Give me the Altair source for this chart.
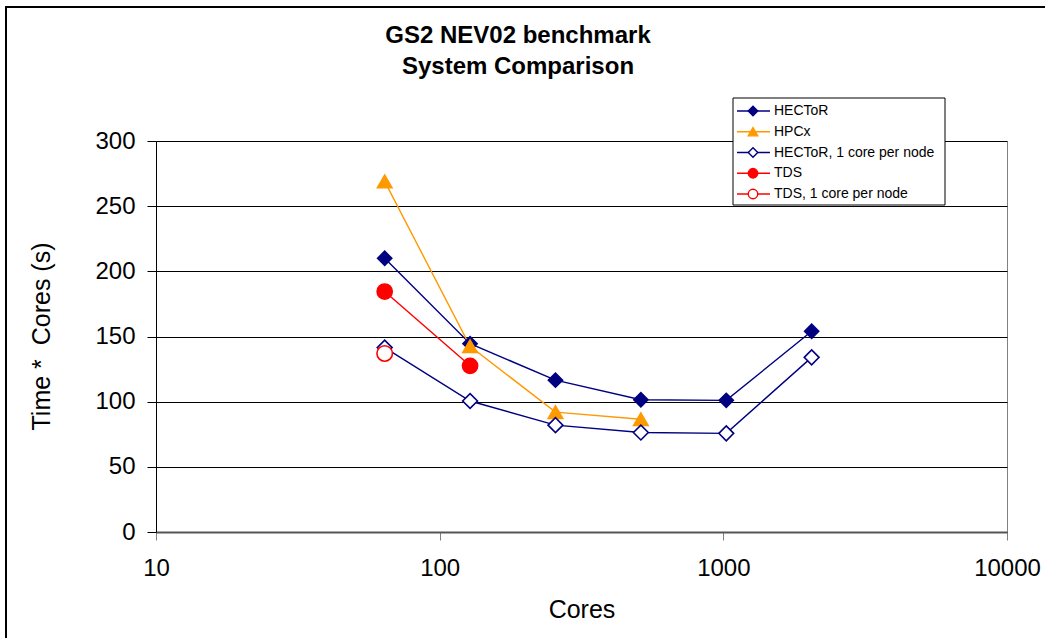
import altair as alt
import pandas as pd

# ---- data ----
series_names = ["HECToR", "HPCx", "HECToR, 1 core per node", "TDS", "TDS, 1 core per node"]

hector_cores = [64, 128, 256, 512, 1024, 2048]
hector_vals = [210, 144.5, 116.5, 101.5, 101, 154]

hpcx_cores = [64, 128, 256, 512]
hpcx_vals = [269, 142.5, 92, 86.5]

hector1_cores = [64, 128, 256, 512, 1024, 2048]
hector1_vals = [141.5, 100.5, 82, 76.3, 75.7, 134]

tds_cores = [64, 128]
tds_vals = [184.5, 127.5]

tds1_cores = [64]
tds1_vals = [137]

x_ticks = [10, 100, 1000, 10000]
y_ticks = [0, 50, 100, 150, 200, 250, 300]

title_lines = ["GS2 NEV02 benchmark", "System Comparison"]
x_title = "Cores"
y_title = "Time *\u00a0\u00a0Cores (s)"

# ---- styles ----
stroke_colors = ["#000080", "#FF9900", "#000080", "#FF0000", "#FF0000"]
fill_colors = ["#000080", "#FF9900", "#FFFFFF", "#FF0000", "#FFFFFF"]
shapes = ["diamond", "triangle-up", "diamond", "circle", "circle"]
sizes = [200, 240, 190, 180, 150]

rows = []
for name, xs, ys in [
    (series_names[0], hector_cores, hector_vals),
    (series_names[1], hpcx_cores, hpcx_vals),
    (series_names[2], hector1_cores, hector1_vals),
    (series_names[3], tds_cores, tds_vals),
    (series_names[4], tds1_cores, tds1_vals),
]:
    for xv, yv in zip(xs, ys):
        rows.append({"series": name, "cores": xv, "value": yv})
df = pd.DataFrame(rows)

FONT = "Liberation Sans"

stroke_scale = alt.Scale(domain=series_names, range=stroke_colors)
fill_scale = alt.Scale(domain=series_names, range=fill_colors)
shape_scale = alt.Scale(domain=series_names, range=shapes)
size_scale = alt.Scale(domain=series_names, range=sizes)

x_enc = alt.X(
    "cores:Q",
    scale=alt.Scale(type="log", domain=[10, 10000], nice=False),
    axis=alt.Axis(
        values=x_ticks,
        format="d",
        title=x_title,
        grid=False,
        domainColor="#555555",
        domainWidth=2,
        tickColor="#808080",
        tickSize=8,
        labelPadding=16,
        labelFontSize=24,
        labelFont=FONT,
        labelColor="#000000",
        titleFont=FONT,
        titleFontSize=25,
        titleFontWeight="normal",
        titleColor="#000000",
        titleY=77,
        titleBaseline="middle",
        labelFlush=False,
        labelOverlap=False,
    ),
)
y_enc = alt.Y(
    "value:Q",
    scale=alt.Scale(domain=[0, 300], nice=False, zero=True),
    axis=alt.Axis(
        values=y_ticks,
        title=y_title,
        grid=True,
        gridColor="#000000",
        gridWidth=1,
        domainColor="#000000",
        domainWidth=1,
        tickColor="#000000",
        tickSize=9,
        labelPadding=12,
        labelFontSize=24,
        labelFont=FONT,
        labelColor="#000000",
        titleFont=FONT,
        titleFontSize=25,
        titleFontWeight="normal",
        titleColor="#000000",
        titleX=-115,
        titleY=195,
        titleAngle=-90,
        titleAlign="center",
        titleBaseline="middle",
        labelFlush=False,
        labelOverlap=False,
    ),
)

lines = alt.Chart(df).mark_line(strokeWidth=1.4).encode(
    x=x_enc,
    y=y_enc,
    stroke=alt.Stroke("series:N", scale=stroke_scale, legend=None),
    order=alt.Order("cores:Q"),
)

points = alt.Chart(df).mark_point(opacity=1, strokeWidth=1.6).encode(
    x=x_enc,
    y=y_enc,
    stroke=alt.Stroke("series:N", scale=stroke_scale, legend=None),
    fill=alt.Fill("series:N", scale=fill_scale, legend=None),
    shape=alt.Shape("series:N", scale=shape_scale, legend=None),
    size=alt.Size("series:N", scale=size_scale, legend=None),
)

main = alt.layer(lines, points)

# ---- legend drawn by hand (Excel style: line through marker) ----
leg_df = pd.DataFrame({"series": series_names})
leg_y = alt.Y(
    "series:N",
    scale=alt.Scale(type="point", domain=series_names, range=[-30, 53], padding=0),
    axis=None,
)
box_df = pd.DataFrame({"k": [0]})
leg_box = alt.Chart(box_df).mark_rect(
    fill="#FFFFFF", stroke="#000000", strokeWidth=1
).encode(
    x=alt.value(577), x2=alt.value(789), y=alt.value(-43), y2=alt.value(64)
)
leg_rules = alt.Chart(leg_df).mark_rule(strokeWidth=1.4).encode(
    x=alt.value(581), x2=alt.value(614), y=leg_y,
    stroke=alt.Stroke("series:N", scale=stroke_scale, legend=None),
)
leg_pts = alt.Chart(leg_df).mark_point(opacity=1, strokeWidth=1.4).encode(
    x=alt.value(597), y=leg_y,
    stroke=alt.Stroke("series:N", scale=stroke_scale, legend=None),
    fill=alt.Fill("series:N", scale=fill_scale, legend=None),
    shape=alt.Shape("series:N", scale=shape_scale, legend=None),
    size=alt.value(90),
)
leg_txt = alt.Chart(leg_df).mark_text(
    align="left", baseline="middle", fontSize=14, font=FONT, color="#000000"
).encode(x=alt.value(618), y=leg_y, text="series:N")
legend = alt.layer(leg_box, leg_rules, leg_pts, leg_txt)

# ---- title and outer frame ----
title = alt.Chart(pd.DataFrame({"k": [0]})).mark_text(
    text=title_lines,
    fontSize=24,
    fontWeight="bold",
    font=FONT,
    align="center",
    baseline="alphabetic",
    lineHeight=31,
    color="#000000",
).encode(x=alt.value(362), y=alt.value(-98))

frame = alt.Chart(pd.DataFrame({"k": [0]})).mark_rect(
    fill=None, stroke="#000000", strokeWidth=2
).encode(
    x=alt.value(-150), x2=alt.value(900), y=alt.value(-134), y2=alt.value(510)
)

chart = (
    alt.layer(frame, title, main, legend)
    .resolve_scale(y="independent")
    .properties(
        width=851,
        height=391,
        autosize=alt.AutoSizeParams(type="none"),
        padding={"left": 156, "top": 141, "right": 38, "bottom": 106},
        background="#FFFFFF",
    )
    .configure_view(stroke="#808080", strokeWidth=1)
)

chart.save("out.html", embed_options={"renderer": "svg", "actions": False})
